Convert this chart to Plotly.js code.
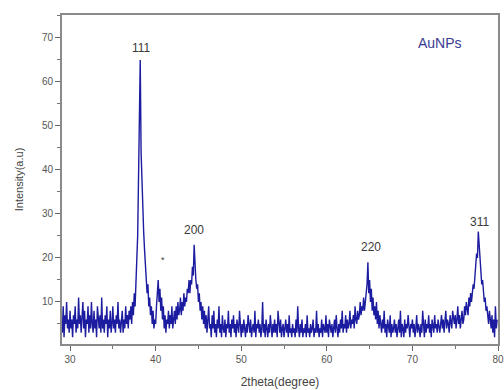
<!DOCTYPE html>
<html>
<head>
<meta charset="utf-8">
<script src="https://cdn.plot.ly/plotly-3.0.1.min.js"></script>
<style>html,body{margin:0;padding:0;background:#fff;}#chart{width:504px;height:390px;}</style>
</head>
<body>
<div id="chart"></div>
<script>
// 2theta grid start/step (degrees) and intensity values
const xStart = 29.1;
const xStep = 0.1;
const intensity = [
  3, 9, 2, 7, 5, 10, 4, 6, 3,
  8, 4, 6, 2, 7, 5, 9, 3, 6, 4,
  11, 5, 7, 3, 6, 10, 4, 8, 2, 6,
  5, 9, 3, 7, 4, 10, 5, 3, 8, 4,
  6, 2, 9, 5, 4, 7, 3, 11, 4, 6,
  3, 7, 5, 9, 2, 6, 4, 8, 3, 5,
  9, 4, 6, 3, 7, 5, 10, 4, 6, 3,
  5, 8, 3, 6, 4, 9, 5, 7, 4, 8,
  6, 9, 5, 10, 7, 12, 9, 14, 18, 25,
  38, 52, 65, 44, 36, 30, 26, 22, 18, 15,
  12, 14, 9, 11, 7, 9, 5, 8, 4, 6,
  5, 9, 12, 15, 10, 13, 8, 11, 6, 9,
  4, 7, 3, 6, 5, 8, 4, 7, 5, 9,
  4, 6, 8, 5, 9, 6, 10, 7, 8, 11,
  7, 10, 8, 12, 9, 11, 10, 13, 12, 15,
  12, 15, 14, 18, 16, 23, 17, 15, 13, 14,
  10, 12, 8, 10, 6, 9, 5, 8, 4, 7,
  3, 6, 9, 4, 5, 2, 7, 4, 8, 3,
  5, 2, 6, 4, 9, 3, 5, 2, 7, 4,
  3, 6, 2, 5, 4, 8, 3, 5, 2, 6,
  4, 7, 3, 5, 2, 6, 4, 3, 8, 4,
  2, 5, 3, 6, 4, 2, 5, 3, 7, 4,
  3, 6, 2, 4, 5, 3, 8, 2, 5, 4,
  6, 3, 5, 2, 4, 10, 3, 5, 2, 6,
  4, 2, 5, 3, 7, 4, 2, 5, 3, 6,
  3, 5, 2, 8, 4, 3, 6, 2, 4, 5,
  2, 4, 6, 3, 5, 2, 7, 3, 4, 2,
  5, 3, 4, 2, 6, 3, 9, 4, 2, 5,
  3, 6, 2, 4, 3, 5, 2, 7, 3, 4,
  2, 5, 3, 4, 6, 2, 4, 3, 8, 3,
  5, 2, 4, 3, 6, 2, 5, 4, 3, 7,
  3, 5, 2, 6, 4, 3, 5, 2, 4, 6,
  3, 7, 4, 2, 5, 3, 6, 4, 8, 3,
  5, 4, 7, 3, 6, 4, 5, 8, 4, 6,
  5, 7, 4, 9, 6, 5, 8, 6, 7, 10,
  7, 9, 8, 11, 8, 10, 12, 14, 19, 12,
  15, 10, 13, 8, 11, 7, 9, 6, 10, 5,
  8, 4, 7, 5, 3, 6, 4, 8, 3, 5,
  2, 6, 4, 3, 7, 2, 5, 3, 4, 6,
  3, 5, 2, 4, 6, 3, 8, 2, 5, 4,
  2, 6, 3, 5, 4, 7, 3, 2, 5, 4,
  6, 3, 5, 2, 4, 7, 3, 5, 4, 2,
  5, 3, 8, 4, 2, 6, 3, 5, 4, 7,
  3, 5, 2, 6, 4, 3, 7, 4, 5, 3,
  6, 4, 3, 5, 7, 4, 6, 3, 5, 8,
  4, 6, 5, 3, 7, 5, 4, 8, 6, 5,
  7, 4, 6, 9, 5, 7, 4, 6, 8, 5,
  6, 9, 7, 10, 8, 7, 11, 9, 12, 10,
  12, 14, 13, 16, 18, 21, 20, 26, 23, 19,
  17, 14, 15, 12, 10, 11, 8, 9, 7, 5,
  8, 6, 4, 7, 3, 6, 2, 9, 4, 6
];
const twoTheta = intensity.map((_, i) => +(xStart + i * xStep).toFixed(2));

// peak labels
const peakLabels = ["111", "*", "200", "220", "311"];
const peakX = [38.3, 40.9, 44.5, 65.2, 77.8];
const peakY = [67.7, 19.5, 26.4, 22.5, 28.2];
const sampleName = "AuNPs";

const tickVals = [30, 40, 50, 60, 70, 80];
const yTickVals = [10, 20, 30, 40, 50, 60, 70];

const trace = {
  x: twoTheta, y: intensity, type: 'scatter', mode: 'lines',
  line: {color: '#1c1ca0', width: 1.4}, hoverinfo: 'skip', cliponaxis: true
};

const annotations = peakLabels.map((t, i) => ({
  x: peakX[i], y: peakY[i], xref: 'x', yref: 'y', text: t, showarrow: false,
  font: {family: 'Liberation Sans, Arial, sans-serif', size: t === '*' ? 9 : 12, color: '#3a3a3a'}
}));
annotations.push({
  x: 73.2, y: 68.9, xref: 'x', yref: 'y', text: sampleName, showarrow: false,
  font: {family: 'Liberation Sans, Arial, sans-serif', size: 14, color: '#3a3a92'}
});

const axisCommon = {
  showline: true, linecolor: '#8a8a8a', linewidth: 2, mirror: true,
  showgrid: false, zeroline: false, ticks: 'outside', ticklen: 5, tickwidth: 1,
  tickcolor: '#666',
  tickfont: {family: 'Liberation Sans, Arial, sans-serif', size: 10, color: '#555'},
  minor: {ticks: 'outside', ticklen: 3, dtick: 5, tickcolor: '#777', showgrid: false}
};

const layout = {
  width: 504, height: 390,
  margin: {l: 62, r: 6, t: 15, b: 46},
  paper_bgcolor: '#fff', plot_bgcolor: '#fff',
  showlegend: false,
  xaxis: Object.assign({}, axisCommon, {
    range: [29.06, 80.0], tickvals: tickVals,
    title: {text: '2theta(degree)', standoff: 14,
      font: {family: 'Liberation Sans, Arial, sans-serif', size: 12, color: '#444'}}
  }),
  yaxis: Object.assign({}, axisCommon, {
    range: [0.45, 75.2], tickvals: yTickVals,
    title: {text: 'Intensity(a.u)', standoff: 16,
      font: {family: 'Liberation Sans, Arial, sans-serif', size: 11, color: '#444'}}
  }),
  annotations: annotations
};

Plotly.newPlot('chart', [trace], layout, {displayModeBar: false, staticPlot: true});
</script>
</body>
</html>
